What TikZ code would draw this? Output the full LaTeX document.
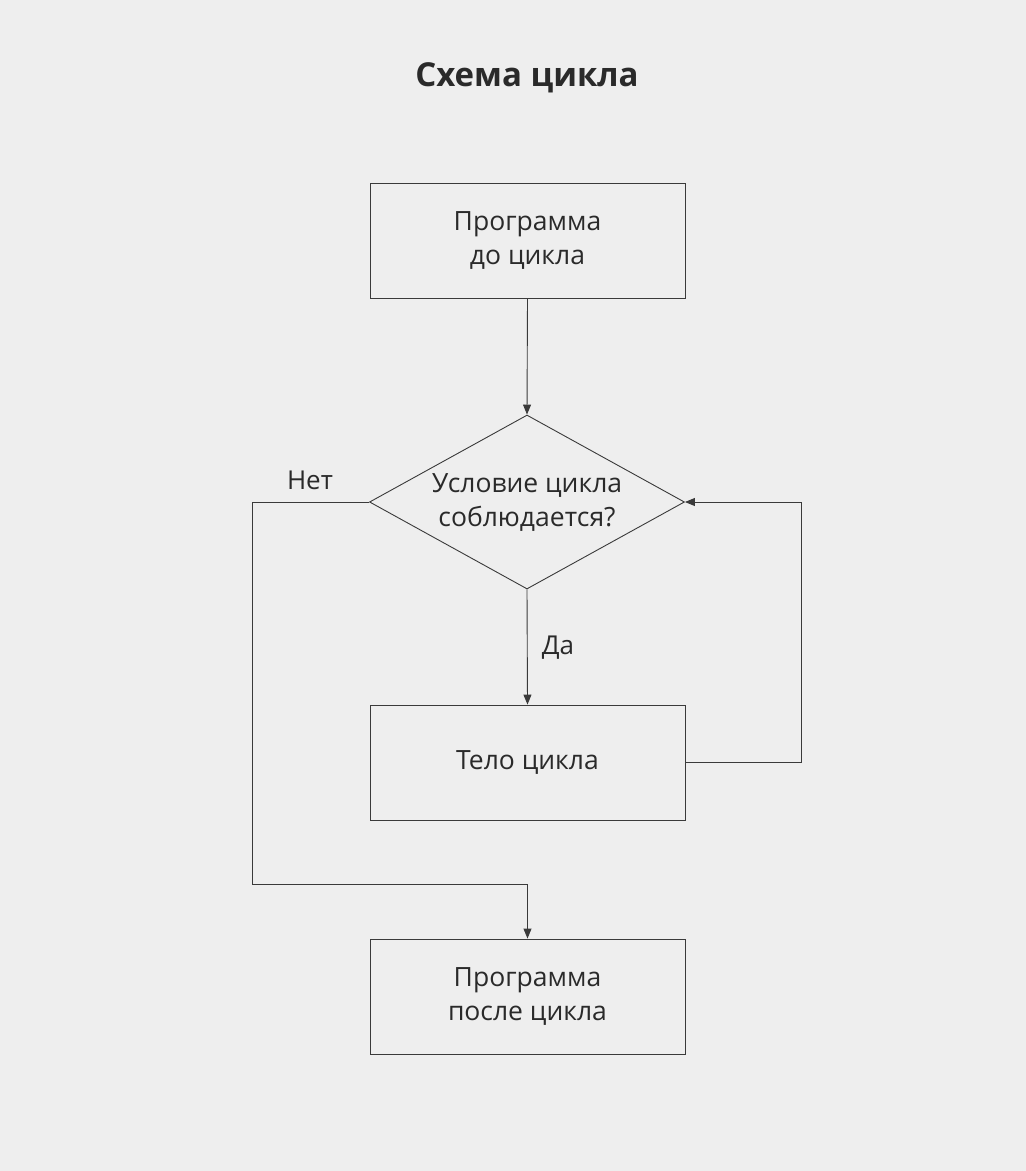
\documentclass[tikz,border=0pt]{standalone}
\usepackage{fontspec}
\setmainfont{Open Sans}
\usetikzlibrary{shapes.geometric,arrows.meta}
\definecolor{bg}{HTML}{EEEEEE}
\definecolor{ln}{HTML}{3A3A3A}
\definecolor{tx}{HTML}{2A2A2A}
\begin{document}
\begin{tikzpicture}[x=1pt,y=-1pt,
  every node/.style={text=tx},
  box/.style={draw=ln,line width=0.9pt,rectangle,minimum width=315pt,minimum height=115pt,inner sep=0pt,align=center,font=\fontsize{26.5}{34}\selectfont},
  cond/.style={draw=ln,line width=0.9pt,diamond,shape aspect=1.81,minimum width=315pt,minimum height=174pt,inner sep=0pt,align=center,font=\fontsize{26.5}{34}\selectfont},
  conn/.style={draw=ln,line width=0.9pt,-{Triangle[length=10pt,width=8pt]}},
  lbl/.style={font=\fontsize{26}{30}\selectfont,inner sep=0pt}
]
\fill[bg] (0,0) rectangle (1026,1171);
\useasboundingbox (0,0) rectangle (1026,1171);
\node[font=\fontsize{33}{40}\selectfont\bfseries] (title) at (527,78) {Схема цикла};
\node[box] (b1) at (527.5,240.5) {Программа\\до цикла};
\node[cond] (d) at (527,502) {Условие цикла\\соблюдается?};
\node[box] (b2) at (527.5,762.5) {Тело цикла};
\node[box] (b3) at (527.5,996.5) {Программа\\после цикла};
\coordinate (nl) at (252,502);
\coordinate (nb) at (252,884);
\coordinate (nc) at (527.5,884);
\coordinate (lr) at (801,762.5);
\coordinate (lt) at (801,502);
\draw[conn] (b1.south) -- (d.north);
\draw[conn] (d.south) -- (b2.north);
\draw[conn] (d.west) -- (nl) -- (nb) -- (nc) -- (b3.north);
\draw[conn] (b2.east) -- (lr) -- (lt) -- (d.east);
\node[lbl] (net) at (310,480) {Нет};
\node[lbl] (da) at (558,648) {Да};
\end{tikzpicture}
\end{document}
